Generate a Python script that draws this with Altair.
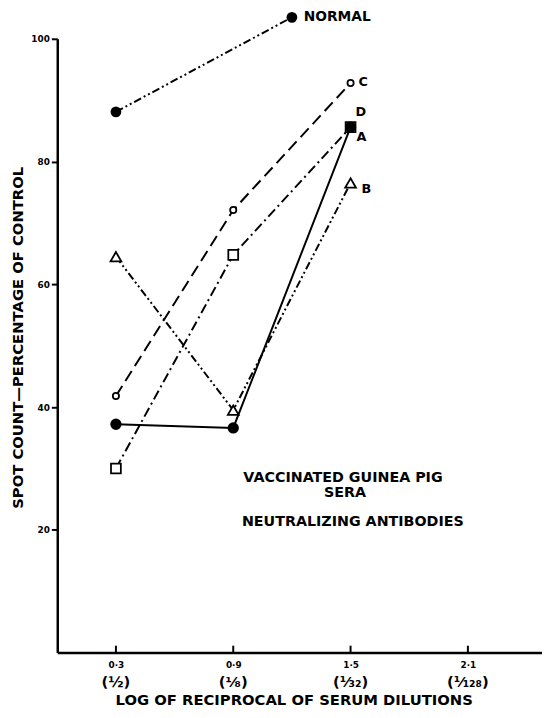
import altair as alt
import pandas as pd

# ---- data ----
normal_x = [0.3, 1.2]
normal_y = [88.1, 103.5]
dil_x = [0.3, 0.9, 1.5]
c_y = [41.8, 72.1, 92.8]
d_y = [30.0, 64.8, 85.6]
a_y = [37.2, 36.6, 85.6]
b_y = [64.5, 39.5, 76.5]

x_ticks = [0.3, 0.9, 1.5, 2.1]
x_tick_labels = ["0·3", "0·9", "1·5", "2·1"]
x_fraction_labels = ["(½)", "(⅛)", "(¹⁄₃₂)", "(¹⁄₁₂₈)"]
y_ticks = [20, 40, 60, 80, 100]
annotation_lines = ["VACCINATED GUINEA PIG", "SERA", "NEUTRALIZING ANTIBODIES"]

FONT = "DejaVu Sans"

def frame(xs, ys):
    return pd.DataFrame({"x": xs, "y": ys})

df_normal = frame(normal_x, normal_y)
df_c = frame(dil_x, c_y)
df_d = frame(dil_x, d_y)
df_a = frame(dil_x, a_y)
df_b = frame(dil_x, b_y)
df_ticks = pd.DataFrame({"x": x_ticks, "lab": x_tick_labels, "frac": x_fraction_labels})

label_expr = " : ".join(
    f"datum.value == {v} ? '{l}'" for v, l in zip(x_ticks, x_tick_labels)
) + " : ''"

PW, PH = 492, 623
xscale = alt.Scale(domain=[0, 2.479], nice=False, zero=False)
yscale = alt.Scale(domain=[0, 100], nice=False)

xaxis = alt.Axis(
    values=x_ticks, labelExpr=label_expr, ticks=False, grid=False,
    domainColor="black", domainWidth=2.5,
    labelFont=FONT, labelFontSize=9, labelFontWeight="bold", labelColor="black",
    labelPadding=8,
    title="LOG OF RECIPROCAL OF SERUM DILUTIONS",
    titleFont=FONT, titleFontSize=15, titleFontWeight="bold", titleColor="black",
    titleX=240, titleY=48, titleBaseline="middle", titleAlign="center",
)
yaxis = alt.Axis(
    values=y_ticks, grid=False, tickSize=6, tickWidth=2, tickColor="black",
    domainColor="black", domainWidth=2.5,
    labelFont=FONT, labelFontSize=9, labelFontWeight="bold", labelColor="black",
    labelPadding=2,
    title="SPOT COUNT—PERCENTAGE OF CONTROL",
    titleFont=FONT, titleFontSize=15, titleFontWeight="bold", titleColor="black",
    titleAngle=270, titleX=-40, titleY=303, titleBaseline="middle", titleAlign="center",
)

X = alt.X("x:Q", scale=xscale, axis=xaxis)
Y = alt.Y("y:Q", scale=yscale, axis=yaxis)

def series(df, shape, filled, size, dash=None):
    lkw = dict(color="black", strokeWidth=2, clip=False)
    if dash is not None:
        lkw["strokeDash"] = dash
    line = alt.Chart(df).mark_line(**lkw).encode(x=X, y=Y)
    if filled:
        pts = alt.Chart(df).mark_point(shape=shape, filled=True, fill="black", stroke="black",
                                       size=size, opacity=1, clip=False).encode(x=X, y=Y)
    else:
        pts = alt.Chart(df).mark_point(shape=shape, filled=True, fill="white", stroke="black",
                                       strokeWidth=1.8, size=size, opacity=1, clip=False).encode(x=X, y=Y)
    return [line, pts]

def end_label(df, text, dx, dy, size=13):
    last = df.tail(1).assign(t=text)
    return alt.Chart(last).mark_text(
        font=FONT, fontSize=size, fontWeight="bold", color="black",
        align="left", baseline="middle", dx=dx, dy=dy, clip=False
    ).encode(x=X, y=Y, text="t:N")

layers = []
layers += series(df_normal, "circle", True, 80, [8, 3, 2, 3, 2, 3])
layers += series(df_c, "circle", False, 40, [12, 6])
layers += series(df_d, "square", False, 100, [10, 4, 2, 4])
layers += series(df_b, "triangle-up", False, 120, [8, 3, 2, 3, 2, 3])
layers += series(df_a, "circle", True, 90)

layers.append(end_label(df_normal, "NORMAL", 12, 0, 14))
layers.append(end_label(df_c, "C", 8, -1))
layers.append(end_label(df_d, "D", 5, -15))
layers.append(end_label(df_a, "A", 6, 10))
layers.append(end_label(df_b, "B", 11, 6))

tick_marks = alt.Chart(df_ticks).mark_rule(color="black", strokeWidth=2).encode(
    x=X, y=alt.value(PH), y2=alt.value(PH - 7)
)
frac_text = alt.Chart(df_ticks).mark_text(
    font=FONT, fontSize=15, fontWeight="bold", color="black", baseline="middle", clip=False
).encode(x=X, y=alt.value(653), text="frac:N")
layers += [tick_marks, frac_text]

ann_px = [290, 292, 300]
ann_py = [446, 461, 490]
for i, line_text in enumerate(annotation_lines):
    layers.append(
        alt.Chart(pd.DataFrame({"t": [line_text]})).mark_text(
            font=FONT, fontSize=14.5, fontWeight="bold", color="black", baseline="middle", align="center"
        ).encode(x=alt.value(ann_px[i]), y=alt.value(ann_py[i]), text="t:N")
    )

chart = alt.layer(*layers).properties(
    width=PW, height=PH,
    autosize=alt.AutoSizeParams(type="none"),
    padding={"left": 50, "top": 26, "right": 0, "bottom": 53},
    background="white",
).configure_view(stroke=None)

chart.save("out.html", embed_options={"renderer": "svg", "actions": False})
